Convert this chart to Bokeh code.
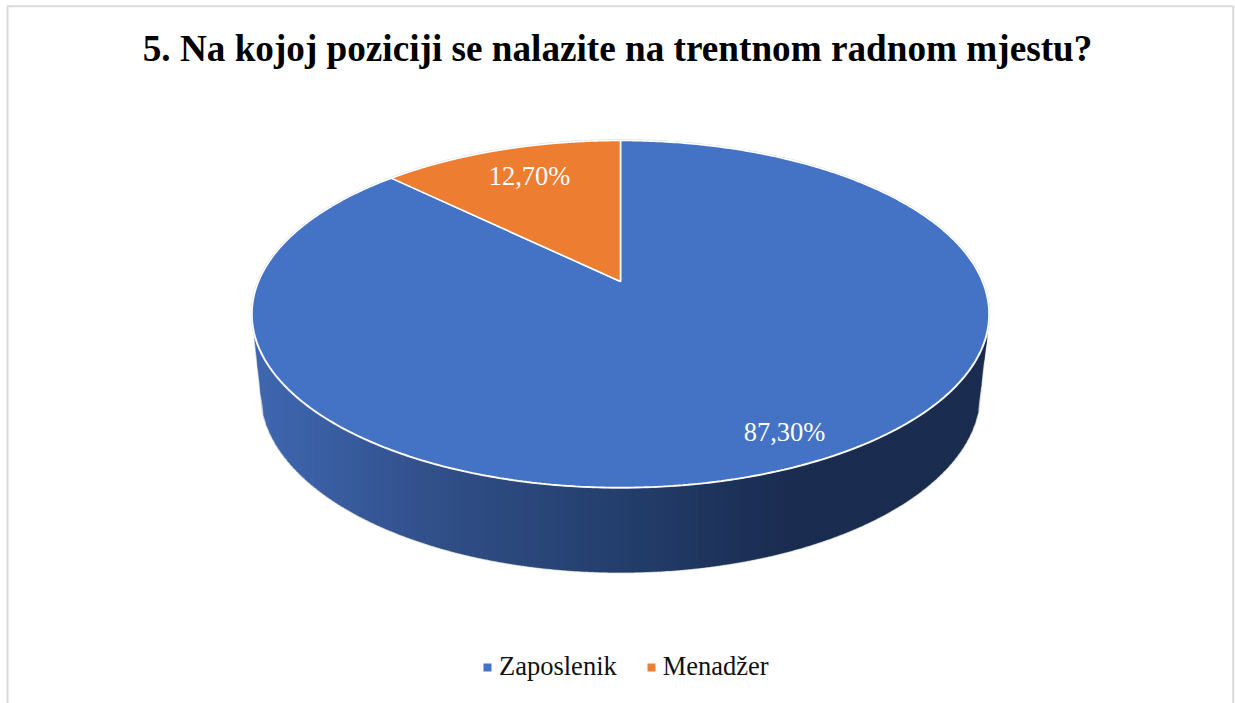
import numpy as np
from bokeh.plotting import figure
from bokeh.models import Range1d, Legend, LegendItem
from bokeh.core.properties import value
from bokeh.embed import file_html
from bokeh.resources import INLINE

TITLE = "5. Na kojoj poziciji se nalazite na trentnom radnom mjestu?"
categories = ["Zaposlenik", "Menadžer"]
shares = [87.30, 12.70]
share_labels = ["87,30%", "12,70%"]
colors = ["#4472C4", "#ED7D31"]

SERIF = value("Liberation Serif")
W, H = 1235, 703

# Tilted-disc projection in page pixels
CX, APEX_Y = 620.0, 281.0
TOP_Y, BOT_Y, RX = 140.0, 487.0, 368.5
up, down = APEX_Y - TOP_Y, BOT_Y - APEX_Y
k = (down - up) / (down + up)
c = up * (1 + k)
a = RX * np.sqrt(1 - k * k)


def disc(theta):
    """theta is clockwise from 12 o'clock on the undistorted disc."""
    u, v = np.sin(theta), np.cos(theta)
    d = 1 + k * v
    return CX + a * u / d, APEX_Y - c * v / d


p = figure(width=W, height=H, x_range=Range1d(0, W), y_range=Range1d(H, 0),
           output_backend="svg", toolbar_location=None, min_border=0,
           background_fill_color="white", border_fill_color=None)
p.axis.visible = False
p.grid.visible = False
p.outline_line_color = None

# Chart-area frame (its bottom edge lies outside the picture)
p.line([7, 7, 1232.7, 1232.7], [H + 5, 5.7, 5.7, H + 5], line_color="#D9D9D9", line_width=2)

# Rim silhouette
LOW_CY, LOW_RX, LOW_RY = 392.0, 360.0, 180.0
Y_E = (TOP_Y + BOT_Y) / 2
RY = (BOT_Y - TOP_Y) / 2
xs_low = np.linspace(CX - LOW_RX, CX + LOW_RX, 361)
ys_low = LOW_CY + LOW_RY * np.sqrt(np.clip(1 - ((xs_low - CX) / LOW_RX) ** 2, 0, 1))
sil_x = np.concatenate([[CX - RX + 2.5], xs_low, [CX + RX - 2.5]])
sil_y = np.concatenate([[Y_E + 25], ys_low, [Y_E + 25]])
p.line(sil_x, sil_y, line_color="#C9CDD3", line_width=1.6)

# Rim shading: columns coloured left to right
stop_x = [254, 300, 430, 620, 760, 810, 990]
stop_rgb = np.array([[63, 103, 176], [60, 98, 168], [50, 80, 138], [36, 63, 109],
                     [28, 47, 85], [26, 44, 79], [26, 44, 79]], dtype=float)
edges = np.arange(CX - RX + 2.5, CX + RX - 2.5 + 3, 3.0)
strip_xs, strip_ys, strip_cols = [], [], []
for x0 in edges[:-1]:
    x1 = x0 + 3.0
    cols = np.array([x0, x1 + 0.8])
    top = Y_E + RY * np.sqrt(np.clip(1 - ((cols - CX) / RX) ** 2, 0, 1)) - 1
    bot = np.interp(cols, sil_x, sil_y)
    rgb = [int(np.interp((x0 + x1) / 2, stop_x, stop_rgb[:, i])) for i in range(3)]
    strip_xs.append([cols[0], cols[1], cols[1], cols[0]])
    strip_ys.append([top[0], top[1], bot[1], bot[0]])
    strip_cols.append("#%02x%02x%02x" % tuple(rgb))
p.patches(strip_xs, strip_ys, fill_color=strip_cols, line_color=None)

# Pie surface: a soft outer halo, then wedges from the shares
theta = np.linspace(0, 2 * np.pi, 721)
hx, hy = disc(theta)
p.line(hx, hy, line_color="#D5D7DA", line_width=2.4)

bounds = np.cumsum([0] + shares) / sum(shares) * 2 * np.pi
items = []
for i, name in enumerate(categories):
    t = np.linspace(bounds[i], bounds[i + 1], 500)
    ex, ey = disc(t)
    r = p.patch(np.concatenate([[CX], ex]), np.concatenate([[APEX_Y], ey]),
                fill_color=colors[i], line_color="white", line_width=1.6)
    items.append(LegendItem(label=value(name), renderers=[r]))

# Data labels
p.text([784, 529], [431, 175], text=share_labels, text_color="white",
       text_font=SERIF, text_font_size="26.5px", text_align="center", text_baseline="middle")

# Title
p.text([617], [48], text=[TITLE], text_color="black", text_font=SERIF, text_font_style="bold",
       text_font_size="37.2px", text_align="center", text_baseline="middle")

legend = Legend(items=items, orientation="horizontal", location=(481, 21),
                background_fill_alpha=0, border_line_color=None,
                glyph_width=12, glyph_height=12, label_standoff=6, spacing=28,
                padding=0, margin=0, label_text_font="Liberation Serif",
                label_text_font_size="26.5px", label_text_color="#111111",
                label_height=30)
p.add_layout(legend, "center")

open("out.html", "w").write(file_html(p, INLINE))
